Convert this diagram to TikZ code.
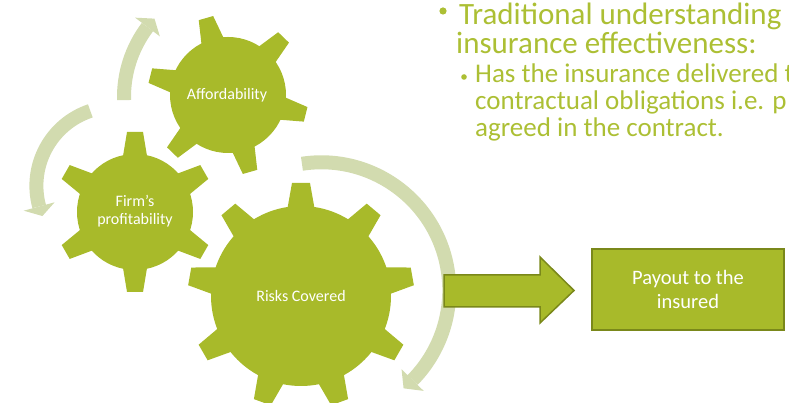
\documentclass[tikz,border=0pt]{standalone}
\usepackage{fontspec}
\setmainfont{Carlito}
\definecolor{gearg}{RGB}{168,186,42}
\definecolor{arcg}{RGB}{210,219,175}
\definecolor{edgeg}{RGB}{122,136,26}
\definecolor{txtg}{RGB}{172,191,52}
\newcommand\mygear[7]{% center, n, phase, rb, ro, wt, wb
  \fill[gearg] (#1) circle[radius=#4];
  \foreach \k in {1,...,#2}{
    \fill[gearg, shift={(#1)}, rotate={#3+360/#2*\k}]
      ({#4-5},{-#7}) -- (#5,{-#6}) -- (#5,#6) -- ({#4-5},#7) -- cycle;
  }
}
\newcommand\myarcarrow[7]{% center, r, start, base, tip, halfwidth, band
  \draw[arcg, line width=#7] ([shift={(#3:#2)}]#1) arc[start angle=#3, end angle=#4, radius=#2];
  \fill[arcg] ([shift={(#4:{#2-#6})}]#1) -- ([shift={(#5:#2)}]#1) -- ([shift={(#4:{#2+#6})}]#1) -- cycle;
}
\begin{document}
\begin{tikzpicture}[x=1pt,y=1pt,
  geartext/.style={text=white, font=\fontsize{16}{18}\selectfont, align=center, inner sep=0pt},
  bigtext/.style={text=txtg, font=\fontsize{31}{34}\selectfont, anchor=base west, inner sep=0pt, text height=20pt, text depth=4pt},
  subtext/.style={text=txtg, font=\fontsize{27}{30}\selectfont, anchor=base west, inner sep=0pt, text height=19pt, text depth=5pt},
  blockshape/.style={fill=gearg, draw=edgeg, line width=1.5pt}]
\useasboundingbox (0,0) rectangle (789,403);
\clip (0,0) rectangle (789,403);
% centers
\coordinate (cA) at (228,308);
\coordinate (cF) at (135,191);
\coordinate (cR) at (301,107);
\coordinate (a1) at (240,306);
\coordinate (a2) at (115.4,217.2);
\coordinate (a3) at (321.3,112.7);
% circular arrows
\myarcarrow{a1}{116}{181.5}{142.9}{137.5}{15.5}{14pt}
\myarcarrow{a2}{79}{108.5}{195.2}{202.5}{16}{14pt}
\myarcarrow{a3}{128}{98.7}{-44.5}{-50}{15.5}{14pt}
% gears
\mygear{cA}{6}{-14}{58}{80}{7.5}{12}
\mygear{cF}{6}{30}{58}{80}{8}{12.5}
\mygear{cR}{9}{90}{90}{113}{9}{14}
\node[geartext] (tA) at (227,308) {Affordability};
\node[geartext] (tF) at (135,192) {Firm’s\\profitability};
\node[geartext] (tR) at (301,107) {Risks Covered};
% block arrow
\draw[blockshape] (444,128) -- (540,128) -- (540,146) -- (574,112.5) -- (540,80) -- (540,96) -- (444,96) -- cycle;
\node[blockshape, minimum width=192pt, minimum height=81pt, inner sep=0pt, text=white,
  font=\fontsize{20.5}{23.5}\selectfont, align=center] (pay) at (688,113.5) {Payout to the\\insured};
% text
\fill[txtg] (443,392) circle[radius=3.6];
\node[bigtext] (l1) at (459,378.5) {Traditional understanding};
\node[bigtext] (l2) at (456,349.5) {insurance effectiveness:};
\fill[txtg] (464,326) circle[radius=2.8];
\node[subtext] (s1) at (475,320) {Has the insurance delivered t};
\node[subtext] (s2) at (475,293) {contractual obligations i.e. p};
\node[subtext] (s3) at (475,266) {agreed in the contract.};
\end{tikzpicture}
\end{document}
